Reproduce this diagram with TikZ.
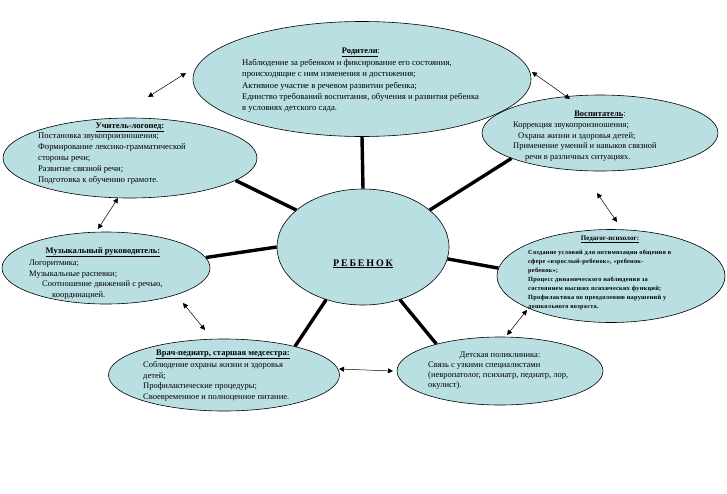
\documentclass[tikz,border=0pt]{standalone}
\usepackage{fontspec}
\setmainfont{Liberation Serif}
\usetikzlibrary{shapes.geometric,arrows.meta}
\definecolor{ellfill}{RGB}{186,223,227}
\tikzset{
  ell/.style={ellipse, draw=black, line width=0.6pt, fill=ellfill, inner sep=0pt},
  spoke/.style={line width=3.4pt, black},
  dbl/.style={line width=0.5pt, {Triangle[length=5pt,width=5pt]}-{Triangle[length=5pt,width=5pt]}},
  ttl/.style={inner sep=0pt, anchor=base, font=\fontsize{8.5}{10.5}\selectfont},
  body/.style={inner sep=0pt, anchor=north west, align=left},
}
\begin{document}
\begin{tikzpicture}[x=1pt,y=-1pt]
\useasboundingbox (0,0) rectangle (727,493);
% ellipses
\node[ell, minimum width=338pt, minimum height=115pt] (parents) at (362,79) {};
\node[ell, minimum width=254pt, minimum height=80pt] (logoped) at (130,158) {};
\node[ell, minimum width=236pt, minimum height=76pt] (vosp) at (600,133) {};
\node[ell, minimum width=228pt, minimum height=93pt] (psych) at (611,276) {};
\node[ell, minimum width=208pt, minimum height=72pt] (music) at (106,268) {};
\node[ell, minimum width=231pt, minimum height=72pt] (doctor) at (224,375) {};
\node[ell, minimum width=206pt, minimum height=68pt] (clinic) at (500,371) {};
\node[ell, minimum width=172pt, minimum height=116pt] (child) at (363,247) {};
% spokes
\draw[spoke] (child.90) -- (parents.270);
\draw[spoke] (child.151) -- (logoped.-12);
\draw[spoke] (child.29) -- (vosp.196);
\draw[spoke] (child.180) -- (music.6);
\draw[spoke] (child.-8) -- (psych.176);
\draw[spoke] (child.235) -- (doctor.22);
\draw[spoke] (child.-55) -- (clinic.157);
% free arrow ends
\coordinate (a1s) at (148,97); \coordinate (a1e) at (186,73);
\coordinate (a2s) at (532,72); \coordinate (a2e) at (570,99);
\coordinate (a3s) at (597,193); \coordinate (a3e) at (617,222);
\coordinate (a4s) at (527,310); \coordinate (a4e) at (507,335);
\coordinate (a5s) at (339,369); \coordinate (a5e) at (393,371);
\coordinate (a6s) at (183,303); \coordinate (a6e) at (205,330);
\coordinate (a7s) at (98,229); \coordinate (a7e) at (118,198);
\draw[dbl] (a1s) -- (a1e);
\draw[dbl] (a2s) -- (a2e);
\draw[dbl] (a3s) -- (a3e);
\draw[dbl] (a4s) -- (a4e);
\draw[dbl] (a5s) -- (a5e);
\draw[dbl] (a6s) -- (a6e);
\draw[dbl] (a7s) -- (a7e);
% texts
\node[inner sep=0pt, anchor=base, font=\fontsize{10}{12}\selectfont\bfseries\addfontfeature{LetterSpace=18}] (childt) at (363,266) {\underline{РЕБЕНОК}};

\node[ttl] (parentst) at (361,53) {\textbf{\underline{Родители}}:};
\node[body, font=\fontsize{8.7}{11.3}\selectfont] (parentsb) at (242,59) {Наблюдение за ребенком и фиксирование его состояния,\\
происходящие с ним изменения и достижения;\\
Активное участие в речевом развитии ребенка;\\
Единство требований воспитания, обучения и развития ребенка\\
в условиях детского сада.};

\node[ttl] (logopedt) at (130,128) {\textbf{\underline{Учитель-логопед:}}};
\node[body, font=\fontsize{8.6}{10.8}\selectfont] (logopedb) at (38,133) {Постановка звукопроизношения;\\
Формирование лексико-грамматической\\
стороны речи;\\
Развитие связной речи;\\
Подготовка к обучению грамоте.};

\node[ttl] (vospt) at (600,116) {\textbf{\underline{Воспитатель}}:};
\node[body, font=\fontsize{8.5}{10.7}\selectfont] (vospb) at (513,121.7) {Коррекция звукопроизношения;\\
\hspace*{5pt}Охрана жизни и здоровья детей;\\
Применение умений и навыков связной\\
\hspace*{12pt}речи в различных ситуациях.};

\node[ttl, font=\fontsize{7}{9}\selectfont] (psycht) at (610,240) {\textbf{\underline{Педагог-психолог:}}};
\node[body, font=\fontsize{6.3}{9.1}\selectfont\bfseries\addfontfeature{LetterSpace=4}] (psychb) at (528,249.5) {Создание условий для оптимизации общения в\\
сфере «взрослый-ребенок», «ребенок-\\
ребенок»;\\
Процесс динамического наблюдения за\\
состоянием высших психических функций;\\
Профилактика по преодолению нарушений у\\
дошкольного возраста.};

\node[ttl] (musict) at (103,253) {\textbf{\underline{Музыкальный руководитель:}}};
\node[body, font=\fontsize{8.5}{10.7}\selectfont] (musicb) at (29,259.7) {Логоритмика;\\
Музыкальные распевки;\\
\hspace*{13pt}Соотношение движений с речью,\\
\hspace*{23pt}координацией.};

\node[ttl] (doctort) at (223,355) {\textbf{\underline{Врач-педиатр, старшая медсестра:}}};
\node[body, font=\fontsize{8.5}{10.5}\selectfont] (doctorb) at (143,361.7) {Соблюдение охраны жизни и здоровья\\
детей;\\
Профилактические процедуры;\\
Своевременное и полноценное питание.};

\node[ttl] (clinict) at (500,357) {Детская поликлиника:};
\node[body, font=\fontsize{8.5}{10.2}\selectfont] (clinicb) at (428,361.2) {Связь с узкими специалистами\\
(невропатолог, психиатр, педиатр, лор,\\
окулист).};
\end{tikzpicture}
\end{document}
